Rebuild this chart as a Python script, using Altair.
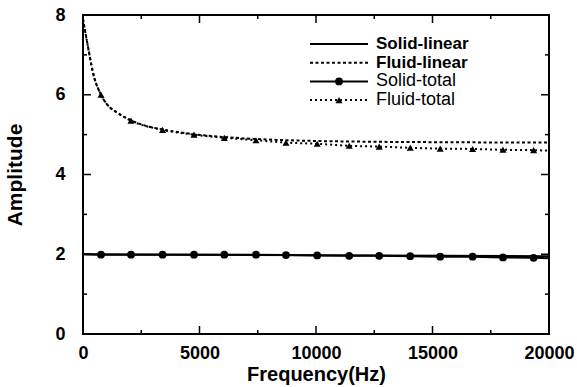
import altair as alt
import pandas as pd

# ---------------- data ----------------
sl_freq = [0, 20000]
sl_amp = [2.0, 1.95]

fl_freq = [0, 215, 430, 772, 1043, 1470, 2060, 2700, 3416, 4764, 6064, 7425, 8712, 10052, 12712, 15330, 20000]
fl_amp = [7.9, 7.2, 6.55, 6.0, 5.75, 5.55, 5.36, 5.22, 5.13, 5.01, 4.94, 4.89, 4.86, 4.84, 4.82, 4.81, 4.8]

mk_freq = [772, 2060, 3416, 4764, 6064, 7425, 8712, 10052, 11425, 12712, 14043, 15330, 16721, 18026, 19339]
st_mk_amp = [1.99, 1.99, 1.99, 1.99, 1.99, 1.99, 1.98, 1.97, 1.96, 1.96, 1.95, 1.94, 1.94, 1.92, 1.91]
ft_mk_amp = [6.0, 5.35, 5.12, 5.0, 4.92, 4.86, 4.8, 4.77, 4.72, 4.7, 4.67, 4.65, 4.64, 4.62, 4.61]

st_line_freq = [0, 772, 2060, 3416, 4764, 6064, 7425, 8712, 10052, 11425, 12712, 14043, 15330, 16721, 18026, 19339, 20000]
st_line_amp = [2.0, 1.99, 1.99, 1.99, 1.99, 1.99, 1.99, 1.98, 1.97, 1.96, 1.96, 1.95, 1.94, 1.94, 1.92, 1.91, 1.9]

ft_line_freq = [0, 215, 430, 772, 1043, 1470, 2060, 3416, 4764, 6064, 7425, 8712, 10052, 11425, 12712, 14043, 15330, 16721, 18026, 19339, 20000]
ft_line_amp = [7.9, 7.2, 6.55, 6.0, 5.75, 5.55, 5.35, 5.12, 5.0, 4.92, 4.86, 4.8, 4.77, 4.72, 4.7, 4.67, 4.65, 4.64, 4.62, 4.61, 4.6]

x_major = [0, 5000, 10000, 15000, 20000]
x_minor = [2500, 7500, 12500, 17500]
y_major = [0, 2, 4, 6, 8]
y_minor = [1, 3, 5, 7]

leg_labels = ["Solid-linear", "Fluid-linear", "Solid-total", "Fluid-total"]

# ---------------- styles ----------------
FONT = "Liberation Sans"
W, H = 466, 319
XS = alt.Scale(domain=[0, 20000], nice=False, zero=False)
YS = alt.Scale(domain=[0, 8], nice=False)
MAJ = 8
MIN = 4
CIRC = 60
TRI = 50

x_axis = alt.Axis(values=x_major, format="d", ticks=False, domain=False, grid=False,
                  title="Frequency(Hz)", labelFont=FONT, labelFontSize=18,
                  labelFontWeight="bold", labelColor="black", labelPadding=10,
                  labelFlush=False, titleFont=FONT, titleFontSize=20,
                  titleFontWeight="bold", titleColor="black", titlePadding=2)
y_axis = alt.Axis(values=y_major, format="d", ticks=False, domain=False, grid=False,
                  title="Amplitude", labelFont=FONT, labelFontSize=18,
                  labelFontWeight="bold", labelColor="black", labelPadding=18,
                  titleFont=FONT, titleFontSize=21, titleFontWeight="bold",
                  titleColor="black", titlePadding=29)


def X(field="f"):
    return alt.X(f"{field}:Q", scale=XS, axis=x_axis)


def Y(field="a"):
    return alt.Y(f"{field}:Q", scale=YS, axis=y_axis)


def df(x, y):
    return pd.DataFrame({"f": x, "a": y})


solid_linear = alt.Chart(df(sl_freq, sl_amp)).mark_line(
    color="black", strokeWidth=2).encode(x=X(), y=Y())

fluid_linear = alt.Chart(df(fl_freq, fl_amp)).mark_line(
    color="black", strokeWidth=2, strokeDash=[3, 2.5], interpolate="monotone").encode(x=X(), y=Y())

solid_total = alt.Chart(df(st_line_freq, st_line_amp)).mark_line(
    color="black", strokeWidth=2).encode(x=X(), y=Y())

fluid_total = alt.Chart(df(ft_line_freq, ft_line_amp)).mark_line(
    color="black", strokeWidth=2, strokeDash=[2, 3], interpolate="monotone").encode(x=X(), y=Y())

st_points = alt.Chart(df(mk_freq, st_mk_amp)).mark_point(
    shape="circle", filled=True, color="black", size=CIRC, opacity=1).encode(x=X(), y=Y())

ft_points = alt.Chart(df(mk_freq, ft_mk_amp)).mark_point(
    shape="triangle-up", filled=True, color="black", size=TRI, opacity=1).encode(x=X(), y=Y())

# ---------------- inward ticks (positions from tick arrays via scales) ----------------
tick_layers = []
for vals, ln in ((x_major, MAJ), (x_minor, MIN)):
    d = pd.DataFrame({"v": vals})
    for y0, y1 in ((H, H - ln), (0, ln)):
        tick_layers.append(alt.Chart(d).mark_rule(color="black", strokeWidth=1.5).encode(
            x=X("v"), y=alt.value(y0), y2=alt.value(y1)))
for vals, ln in ((y_major, MAJ), (y_minor, MIN)):
    d = pd.DataFrame({"v": vals})
    for x0, x1 in ((0, ln), (W, W - ln)):
        tick_layers.append(alt.Chart(d).mark_rule(color="black", strokeWidth=1.5).encode(
            y=Y("v"), x=alt.value(x0), x2=alt.value(x1)))

# ---------------- legend ----------------
leg_dash = [[1, 0], [3, 2.5], [1, 0], [2, 3]]
leg_marker = [None, None, "circle", "triangle-up"]
leg_msize = [0, 0, CIRC, TRI]
leg_weight = ["bold", "bold", "normal", "normal"]
leg_fsize = [17, 17, 18, 18]
LX0, LX1, LTX, LY0, LDY = 227, 285, 293, 29, 18.7

legend_layers = []
for i, lab in enumerate(leg_labels):
    row = pd.DataFrame({"label": [lab]})
    yy = LY0 + i * LDY
    legend_layers.append(
        alt.Chart(row).mark_rule(color="black", strokeWidth=2, strokeDash=leg_dash[i]).encode(
            x=alt.value(LX0), x2=alt.value(LX1), y=alt.value(yy)))
    if leg_marker[i]:
        legend_layers.append(
            alt.Chart(row).mark_point(shape=leg_marker[i], filled=True, color="black",
                                      size=leg_msize[i], opacity=1).encode(
                x=alt.value((LX0 + LX1) / 2), y=alt.value(yy)))
    legend_layers.append(
        alt.Chart(row).mark_text(align="left", baseline="middle", font=FONT,
                                 fontSize=leg_fsize[i], fontWeight=leg_weight[i],
                                 color="black").encode(
            x=alt.value(LTX), y=alt.value(yy), text="label:N"))

chart = alt.layer(
    solid_linear, fluid_linear, solid_total, fluid_total, st_points, ft_points,
    *tick_layers, *legend_layers
).properties(
    width=W, height=H,
    autosize=alt.AutoSizeParams(type="none"),
    padding={"left": 83, "top": 15, "right": 28, "bottom": 53},
    background="white",
).configure_view(stroke="black", strokeWidth=2)

chart.save("out.html", embed_options={"renderer": "svg", "actions": False})
